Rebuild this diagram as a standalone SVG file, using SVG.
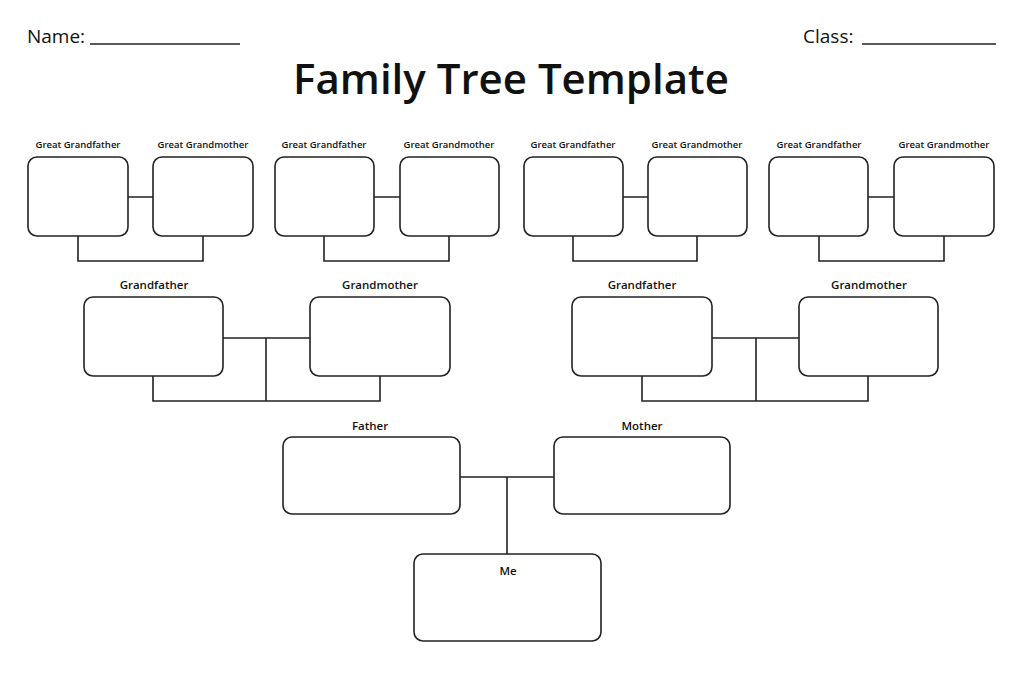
<svg xmlns="http://www.w3.org/2000/svg" width="1024" height="683" viewBox="0 0 1024 683">
<style>
text{font-family:"Open Sans","Liberation Sans",sans-serif;fill:#111;text-anchor:middle}
.s{font-size:9.5px;font-weight:600}
.m{font-size:11.5px;font-weight:600}
.b{fill:#fff;stroke:#222;stroke-width:1.6}
.c{fill:none;stroke:#222;stroke-width:1.6}
</style>
<rect width="1024" height="683" fill="#fff"/>
<text x="27" y="43" style="font-size:19px;text-anchor:start">Name:</text>
<line x1="90" y1="44" x2="240" y2="44" class="c"/>
<text x="803" y="43" style="font-size:19px;text-anchor:start">Class:</text>
<line x1="862" y1="44" x2="996" y2="44" class="c"/>
<text x="511" y="94" style="font-size:42px;font-weight:600">Family Tree Template</text>
<g id="connectors">
<path class="c" d="M128 197H153M78 236V261H203V236M374 197H400M324 236V261H449V236M623 197H648M573 236V261H697V236M868 197H894M819 236V261H944V236"/>
<path class="c" d="M223 338H310M266 338V401M153 376V401H380V376M712 338H799M756 338V401M642 376V401H868V376"/>
<path class="c" d="M460 477H554M507 477V554"/>
</g>
<g id="ggf1"><text class="s" x="78" y="148">Great Grandfather</text><rect class="b" x="28" y="157" width="100" height="79" rx="9"/></g>
<g id="ggm1"><text class="s" x="203" y="148">Great Grandmother</text><rect class="b" x="153" y="157" width="100" height="79" rx="9"/></g>
<g id="ggf2"><text class="s" x="324" y="148">Great Grandfather</text><rect class="b" x="275" y="157" width="99" height="79" rx="9"/></g>
<g id="ggm2"><text class="s" x="449" y="148">Great Grandmother</text><rect class="b" x="400" y="157" width="99" height="79" rx="9"/></g>
<g id="ggf3"><text class="s" x="573" y="148">Great Grandfather</text><rect class="b" x="524" y="157" width="99" height="79" rx="9"/></g>
<g id="ggm3"><text class="s" x="697" y="148">Great Grandmother</text><rect class="b" x="648" y="157" width="99" height="79" rx="9"/></g>
<g id="ggf4"><text class="s" x="819" y="148">Great Grandfather</text><rect class="b" x="769" y="157" width="99" height="79" rx="9"/></g>
<g id="ggm4"><text class="s" x="944" y="148">Great Grandmother</text><rect class="b" x="894" y="157" width="100" height="79" rx="9"/></g>
<g id="gf1"><text class="m" x="154" y="289">Grandfather</text><rect class="b" x="84" y="297" width="139" height="79" rx="9"/></g>
<g id="gm1"><text class="m" x="380" y="289">Grandmother</text><rect class="b" x="310" y="297" width="140" height="79" rx="9"/></g>
<g id="gf2"><text class="m" x="642" y="289">Grandfather</text><rect class="b" x="572" y="297" width="140" height="79" rx="9"/></g>
<g id="gm2"><text class="m" x="869" y="289">Grandmother</text><rect class="b" x="799" y="297" width="139" height="79" rx="9"/></g>
<g id="father"><text class="m" x="370" y="430">Father</text><rect class="b" x="283" y="437" width="177" height="77" rx="9"/></g>
<g id="mother"><text class="m" x="642" y="430">Mother</text><rect class="b" x="554" y="437" width="176" height="77" rx="9"/></g>
<g id="me"><rect class="b" x="414" y="554" width="187" height="87" rx="9"/><text class="m" x="508" y="575">Me</text></g>
</svg>
